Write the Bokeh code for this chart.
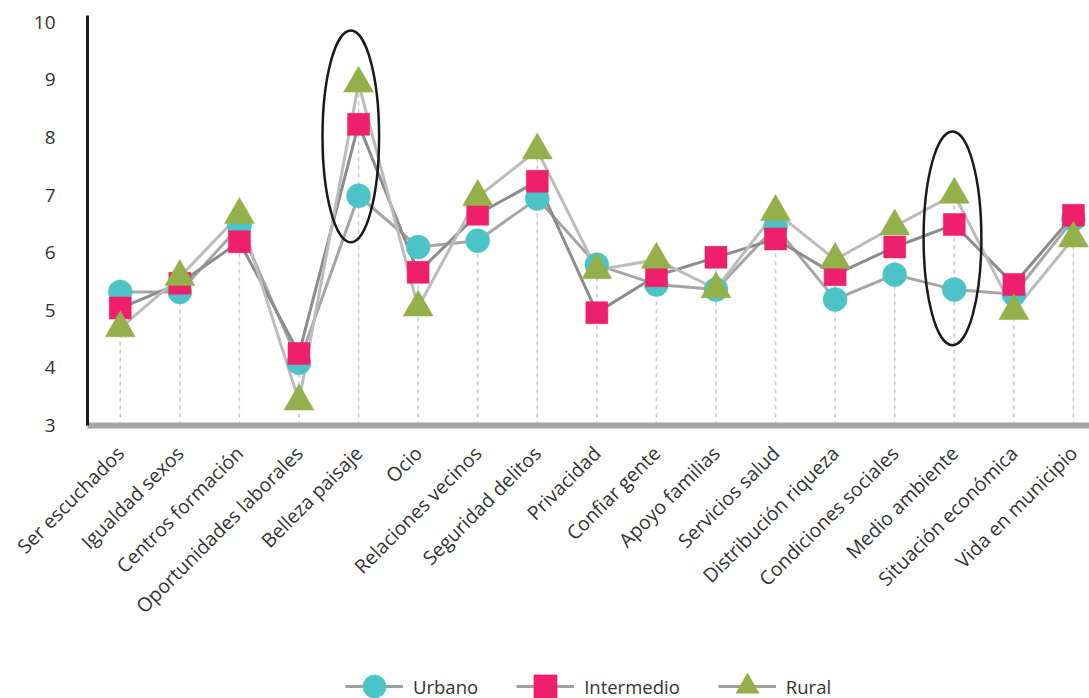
import numpy as np
from bokeh.plotting import figure
from bokeh.layouts import column
from bokeh.models import FixedTicker, Legend, LegendItem, Range1d
from bokeh.embed import file_html
from bokeh.resources import INLINE

categories = ["Ser escuchados", "Igualdad sexos", "Centros formación", "Oportunidades laborales",
              "Belleza paisaje", "Ocio", "Relaciones vecinos", "Seguridad delitos", "Privacidad",
              "Confiar gente", "Apoyo familias", "Servicios salud", "Distribución riqueza",
              "Condiciones sociales", "Medio ambiente", "Situación económica", "Vida en municipio"]
urbano = [5.32, 5.32, 6.46, 4.09, 6.99, 6.10, 6.21, 6.94, 5.79, 5.45, 5.36, 6.45, 5.19, 5.62, 5.36, 5.28, 6.58]
intermedio = [5.04, 5.47, 6.19, 4.25, 8.23, 5.66, 6.67, 7.24, 4.96, 5.60, 5.92, 6.24, 5.62, 6.10, 6.49, 5.45, 6.65]
rural = [4.69, 5.58, 6.66, 3.42, 8.94, 5.05, 6.97, 7.78, 5.70, 5.88, 5.37, 6.71, 5.88, 6.46, 7.01, 4.99, 6.25]
y_ticks = [3, 4, 5, 6, 7, 8, 9, 10]

# highlighted categories (annotation ellipses)
highlight_idx = [4, 14]
highlight_cy = [8.02, 6.25]
highlight_h = [3.68, 3.72]
highlight_w = [0.95, 0.97]
highlight_dx = [-0.13, -0.03]

FONT = "Open Sans"
x = list(range(len(categories)))

p = figure(frame_width=1002, frame_height=410, x_range=(-0.55, 16.27), y_range=(3, 10.12),
           output_backend="svg", toolbar_location=None,
           min_border_left=87, min_border_top=15, min_border_right=0, min_border_bottom=215)
p.outline_line_color = None
p.xgrid.grid_line_color = None
p.ygrid.grid_line_color = None

# drop lines
tops = np.maximum(np.maximum(urbano, intermedio), rural)
p.segment(x0=x, y0=[y_ticks[0]] * len(x), x1=x, y1=tops.tolist(),
          line_color="#c8c8c8", line_width=1.5, line_dash="4 4")

series = [
    ("Urbano", urbano, "#a6a6a6", "circle", "#4cc3c6", 24),
    ("Intermedio", intermedio, "#8c8c8c", "square", "#ee1f6b", 22),
    ("Rural", rural, "#bcbcbc", "triangle", "#93b04a", 30),
]
for name, vals, lc, mk, fc, sz in series:
    p.line(x, vals, line_color=lc, line_width=3)
for name, vals, lc, mk, fc, sz in series:
    p.scatter(x, vals, marker=mk, size=sz, fill_color=fc, line_color=fc, line_width=0.5)

# ellipses
p.ellipse(x=[x[i] + d for i, d in zip(highlight_idx, highlight_dx)], y=highlight_cy,
          width=highlight_w, height=highlight_h, fill_color=None, line_color="#1a1a1a", line_width=2.5)

p.xaxis.ticker = FixedTicker(ticks=x)
p.xaxis.major_label_overrides = {i: c for i, c in enumerate(categories)}
p.xaxis.major_label_orientation = np.pi / 4
p.xaxis.major_label_text_font = FONT
p.xaxis.major_label_text_font_size = "19.5px"
p.xaxis.major_label_text_color = "#333333"
p.xaxis.axis_line_color = "#a6a6a6"
p.xaxis.axis_line_width = 6
p.xaxis.major_tick_line_color = None
p.xaxis.minor_tick_line_color = None
p.xaxis.major_label_standoff = 18

p.yaxis.ticker = FixedTicker(ticks=y_ticks)
p.yaxis.major_label_text_font = FONT
p.yaxis.major_label_text_font_size = "19px"
p.yaxis.major_label_text_color = "#333333"
p.yaxis.axis_line_color = "#1a1a1a"
p.yaxis.axis_line_width = 3
p.yaxis.major_tick_line_color = None
p.yaxis.minor_tick_line_color = None
p.yaxis.major_label_standoff = 26

# legend strip (separate figure; its sample glyphs lie outside its visible range)
lg = figure(width=1089, height=58, x_range=Range1d(0, 1), y_range=Range1d(0, 1),
            output_backend="svg", toolbar_location=None,
            min_border_left=0, min_border_right=0, min_border_top=0, min_border_bottom=0)
lg.axis.visible = False
lg.xgrid.grid_line_color = None
lg.ygrid.grid_line_color = None
lg.outline_line_color = None
items = []
for name, vals, lc, mk, fc, sz in series:
    l = lg.line([-5, -4], [-5, -4], line_color="#a0a0a0", line_width=3)
    m = lg.scatter([-5], [-5], marker=mk, size=sz, fill_color=fc, line_color=fc, line_width=0.5)
    items.append(LegendItem(label=name, renderers=[l, m]))
legend = Legend(items=items, orientation="horizontal", location=(258, -18),
                label_text_font=FONT, label_text_font_size="18.5px", label_text_color="#333333",
                glyph_width=58, glyph_height=60, spacing=38, border_line_color=None,
                background_fill_alpha=0, margin=0, padding=0, label_standoff=10)
lg.add_layout(legend, "center")

layout = column(p, lg, spacing=0)
open("out.html", "w").write(file_html(layout, INLINE))
